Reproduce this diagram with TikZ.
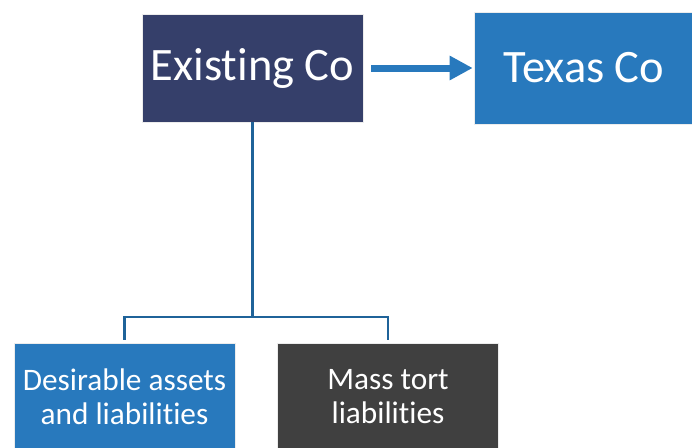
\documentclass[tikz,border=0pt]{standalone}
\usepackage{fontspec}
\setmainfont{Carlito}[RawFeature={-liga}]
\usetikzlibrary{arrows.meta}
\definecolor{navy}{HTML}{353F6A}
\definecolor{midblue}{HTML}{2879BD}
\definecolor{darkgray}{HTML}{404040}
\definecolor{linkblue}{HTML}{1F6399}
\tikzset{
  bigbox/.style={rectangle, draw=white!85!gray, line width=0.6pt, text=white,
    font=\fontsize{46.5}{55}\selectfont, inner sep=0pt},
  smallbox/.style={rectangle, draw=white!85!gray, line width=0.6pt, text=white,
    font=\fontsize{31.3}{34}\selectfont, align=center, inner sep=0pt,
    minimum width=221pt, minimum height=108pt},
  link/.style={draw=linkblue, line width=2.8pt},
  push/.style={draw=midblue, line width=7pt, -{Triangle[length=23pt,width=23pt]}}
}
\begin{document}
\begin{tikzpicture}[x=1pt, y=-1pt]
  \useasboundingbox (0,0) rectangle (692,447);
  \begin{scope}
    \clip (0,0) rectangle (692,447);
    % top row
    \node[bigbox, fill=navy, minimum width=221pt, minimum height=108pt] (ex) at (252.5,68) {Existing Co};
    \node[bigbox, fill=midblue, minimum width=220pt, minimum height=112pt] (tx) at (584,68) {Texas Co};
    % bottom row
    \node[smallbox, fill=midblue] (des) at (124.5,397) {Desirable assets\\and liabilities};
    \node[smallbox, fill=darkgray] (mass) at (388,397) {Mass tort\\liabilities};
  \end{scope}
  % spin-off arrow
  \draw[push] ([xshift=8pt]ex.east) -- ([xshift=-1pt]tx.west);
  % split into two branches
  \coordinate (j) at (ex.south |- 0,317);
  \draw[link] (ex.south) -- (j);
  \draw[link] ([yshift=3pt]des.north) |- (j) -| ([yshift=3pt]mass.north);
\end{tikzpicture}
\end{document}
